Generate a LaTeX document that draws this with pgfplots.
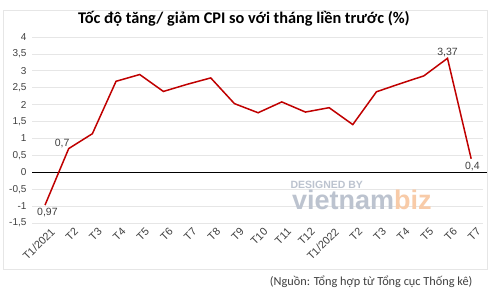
\documentclass[border=0pt]{standalone}
\usepackage{pgfplots}
\pgfplotsset{compat=1.18}
\usepackage{fontspec}
\setmainfont{Liberation Sans}
\newfontfamily\titlefont{Carlito}
\definecolor{linered}{HTML}{C00000}
\definecolor{ticktxt}{HTML}{404040}
\definecolor{gridc}{HTML}{E6E6E6}
\definecolor{wmgray}{HTML}{BCC3CF}
\definecolor{wmorange}{HTML}{F8CBA8}
\pgfplotstableread{
x y
0 -0.97
1 0.70
2 1.14
3 2.69
4 2.89
5 2.39
6 2.60
7 2.79
8 2.03
9 1.76
10 2.08
11 1.78
12 1.91
13 1.41
14 2.38
15 2.62
16 2.85
17 3.37
18 0.40
}\cpidata
\begin{document}
\begin{tikzpicture}
\fill[white] (0,0) rectangle (490pt,296pt);
\draw[gridc, line width=0.8pt] (3pt,27pt) rectangle (487pt,286pt);
\begin{axis}[
  at={(32pt,73pt)}, anchor=south west,
  scale only axis, width=451pt, height=186pt,
  xmin=-0.55, xmax=18.5, ymin=-1.5, ymax=4,
  axis line style={draw=none},
  tick style={draw=none},
  ytick={-1.5,-1,...,4},
  yticklabels={{-1,5},{-1},{-0,5},{0},{0,5},{1},{1,5},{2},{2,5},{3},{3,5},{4}},
  ymajorgrids, grid style={gridc, line width=0.8pt},
  xtick={0,...,18},
  xticklabels={T1/2021,T2,T3,T4,T5,T6,T7,T8,T9,T10,T11,T12,T1/2022,T2,T3,T4,T5,T6,T7},
  tick label style={text=ticktxt},
  yticklabel style={font=\fontsize{10}{11}\selectfont, xshift=-2pt},
  xticklabel style={font=\fontsize{10.8}{11}\selectfont, rotate=45, anchor=north east, xshift=4pt, yshift=-3pt},
  clip=false,
]
\node[font=\bfseries\fontsize{10.5}{11}\selectfont, text=wmgray] at (axis cs:11.9,-0.38) {DESIGNED BY};
\node[font=\bfseries\fontsize{27}{28}\selectfont, text=wmgray, anchor=west, inner sep=0pt] at (axis cs:10.43,-0.82) {vietnam\textcolor{wmorange}{biz}};
\draw[black, line width=1.4pt] (axis cs:-0.55,0) -- (axis cs:18.65,0);
\addplot[linered, line width=1.5pt] table[x=x,y=y] {\cpidata};
\node[font=\fontsize{10.5}{11}\selectfont, text=ticktxt] at (axis cs:0.1,-1.2) {0,97};
\node[font=\fontsize{10.5}{11}\selectfont, text=ticktxt] at (axis cs:0.72,0.84) {0,7};
\node[font=\fontsize{10.5}{11}\selectfont, text=ticktxt] at (axis cs:17.0,3.55) {3,37};
\node[font=\fontsize{10.5}{11}\selectfont, text=ticktxt] at (axis cs:18.05,0.18) {0,4};
\end{axis}
\node[font=\titlefont\bfseries\fontsize{16.3}{18}\selectfont, text=black] at (244pt,277pt) {Tốc độ tăng/ giảm CPI so với tháng liền trước (\%)};
\node[font=\titlefont\fontsize{12.3}{13}\selectfont, text=ticktxt, anchor=east] at (476pt,14pt) {(Nguồn: Tổng hợp từ Tổng cục Thống kê)};
\pgfresetboundingbox
\useasboundingbox (0,0) rectangle (490pt,296pt);
\end{tikzpicture}
\end{document}
